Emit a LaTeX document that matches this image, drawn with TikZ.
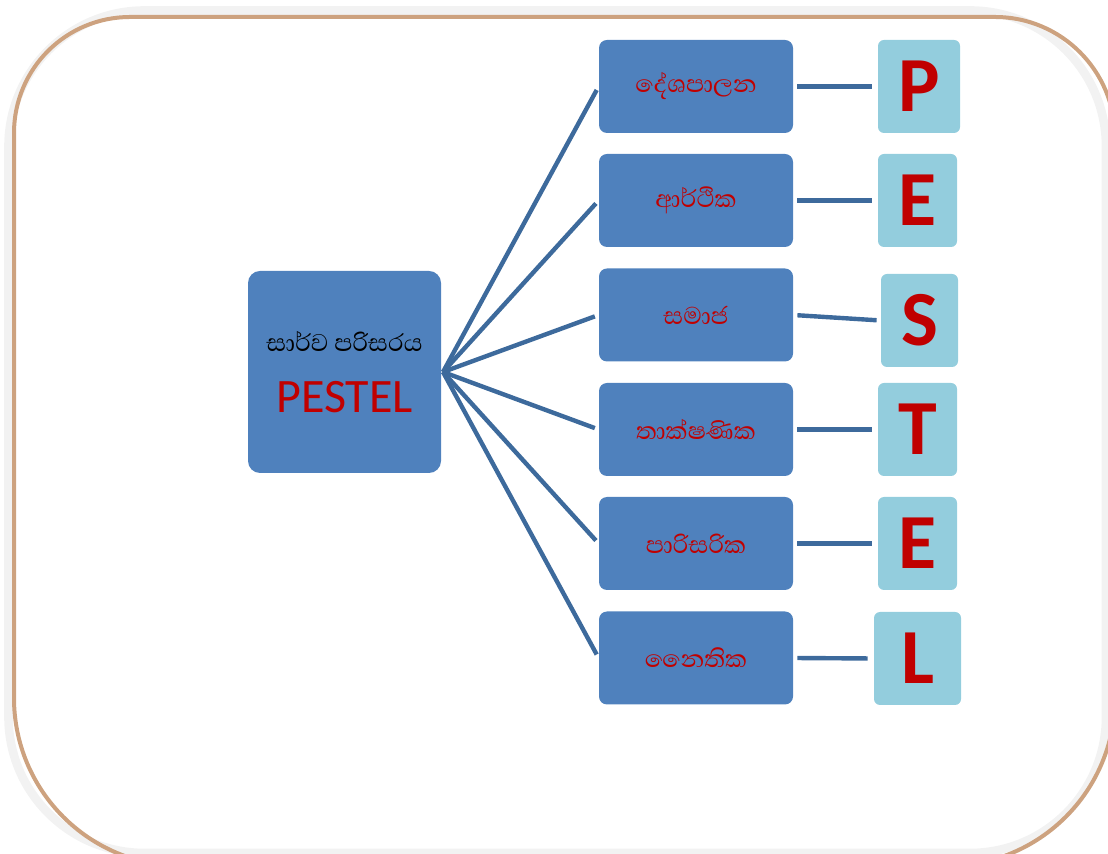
\documentclass[tikz,border=0pt]{standalone}
\usepackage{fontspec}
\setmainfont{Carlito}
\newfontfamily\sinhala[Script=Sinhala]{Abhaya Libre}
\definecolor{boxblue}{HTML}{4F81BD}
\definecolor{letterblue}{HTML}{93CDDD}
\definecolor{linkblue}{HTML}{3D6A9C}
\definecolor{darkred}{HTML}{C00000}
\definecolor{frametan}{HTML}{CDA27F}
\definecolor{framegray}{HTML}{F2F2F2}
\tikzset{
  factor/.style={fill=boxblue, rounded corners=4pt, minimum width=97pt, minimum height=46.5pt,
    text=darkred, font=\sinhala\fontsize{15.5}{18}\selectfont, inner sep=0pt},
  letter/.style={fill=letterblue, rounded corners=3pt, minimum height=46.5pt,
    text=darkred, font=\bfseries\fontsize{39}{40}\selectfont, inner sep=0pt},
  link/.style={draw=linkblue, line width=2.2pt}
}

\begin{document}
\begin{tikzpicture}[x=0.5pt,y=-0.5pt]
\useasboundingbox (0,0) rectangle (1108,854);
\draw [framegray, line width=4.3pt, rounded corners=68pt] (8.5,10.5) rectangle (1106,853);
\draw [frametan, line width=2pt] (130,17) -- (995,17) arc [start angle=90, end angle=0, radius=60pt]
  -- (1115,698) arc [start angle=0, end angle=-90, radius=84pt]
  -- (182,866) arc [start angle=270, end angle=180, radius=84pt]
  -- (14,133) arc [start angle=180, end angle=90, radius=58pt] -- cycle;

\node [fill=boxblue, rounded corners=6pt, minimum width=96.5pt, minimum height=101pt,
  align=center, inner sep=0pt] (env) at (344.5,372)
  {{\sinhala\fontsize{15.5}{18}\selectfont සාර්ව පරිසරය}\\[14pt]
   {\color{darkred}\fontsize{24}{26}\selectfont PESTEL}};

\node [factor] (pol) at (696,86.5) {දේශපාලන};
\node [factor] (eco) at (696,200.5) {ආර්ථික};
\node [factor] (soc) at (696,315) {සමාජ};
\node [factor] (tec) at (696,429.5) {තාක්ෂණික};
\node [factor] (env2) at (696,543.5) {පාරිසරික};
\node [factor] (leg) at (696,658) {නෛතික};

\node [letter, minimum width=41pt] (P) at (919,86.5) {P};
\node [letter, minimum width=39.5pt] (E1) at (917.5,200.5) {E};
\node [letter, minimum width=38.5pt] (S) at (919.5,320.5) {S};
\node [letter, minimum width=39.5pt] (T) at (917.5,429.5) {T};
\node [letter, minimum width=39.5pt] (E2) at (917.5,543.5) {E};
\node [letter, minimum width=43.5pt] (L) at (917.5,658.5) {L};

\coordinate (hub) at (443,372);
\foreach \f in {pol,eco,soc,tec,env2,leg}
  \draw [link, shorten >=2pt] (hub) -- (\f.west);

\draw [link, shorten <=2pt, shorten >=3pt] (pol.east) -- (P.west);
\draw [link, shorten <=2pt, shorten >=3pt] (eco.east) -- (E1.west);
\draw [link, shorten <=2pt, shorten >=2pt] (soc.east) -- (S.west);
\draw [link, shorten <=2pt, shorten >=3pt] (tec.east) -- (T.west);
\draw [link, shorten <=2pt, shorten >=3pt] (env2.east) -- (E2.west);
\draw [link, shorten <=2pt, shorten >=3pt] (leg.east) -- (L.west);
\end{tikzpicture}
\end{document}
